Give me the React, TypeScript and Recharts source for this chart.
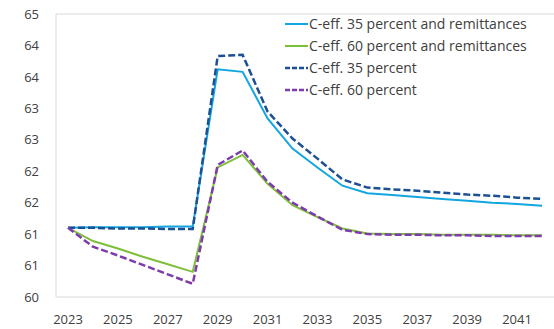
import { LineChart, Line, XAxis, YAxis, ReferenceLine } from "recharts";

const years = [
  "2023", "2024", "2025", "2026", "2027", "2028", "2029", "2030", "2031", "2032",
  "2033", "2034", "2035", "2036", "2037", "2038", "2039", "2040", "2041", "2042",
];

const c35Remit = [61.1, 61.11, 61.11, 61.11, 61.12, 61.12, 63.62, 63.58, 62.84, 62.36, 62.06, 61.77, 61.65, 61.62, 61.59, 61.56, 61.53, 61.5, 61.48, 61.45];
const c60Remit = [61.1, 60.89, 60.77, 60.64, 60.52, 60.4, 62.06, 62.26, 61.8, 61.46, 61.27, 61.09, 61.01, 61.0, 61.0, 60.99, 60.99, 60.99, 60.98, 60.98];
const c35 = [61.1, 61.1, 61.09, 61.09, 61.08, 61.08, 63.83, 63.85, 62.95, 62.52, 62.2, 61.87, 61.74, 61.71, 61.69, 61.66, 61.63, 61.61, 61.58, 61.56];
const c60 = [61.1, 60.8, 60.66, 60.51, 60.36, 60.21, 62.1, 62.33, 61.83, 61.5, 61.28, 61.07, 61.0, 60.99, 60.99, 60.98, 60.98, 60.97, 60.97, 60.97];

const yTicks = [60, 60.5, 61, 61.5, 62, 62.5, 63, 63.5, 64, 64.5];

const series = [
  { key: "c35r", name: "C-eff. 35 percent and remittances", color: "#12a6e0", dash: undefined as string | undefined, width: 2 },
  { key: "c60r", name: "C-eff. 60 percent and remittances", color: "#7dbf3a", dash: undefined, width: 2 },
  { key: "c35", name: "C-eff. 35 percent", color: "#1c4f94", dash: "7 3", width: 2.5 },
  { key: "c60", name: "C-eff. 60 percent", color: "#7d3bae", dash: "7 3", width: 2.5 },
];

const data = years.map((y, i) => ({
  year: y,
  c35r: c35Remit[i],
  c60r: c60Remit[i],
  c35: c35[i],
  c60: c60[i],
}));

const font = "'Open Sans', sans-serif";
const textColor = "#404040";

// legend drawn as an overlay so it doesn't eat plot space
function LegendBox() {
  return (
    <svg width={270} height={100} style={{ position: "absolute", left: 284, top: 12 }}>
      {series.map((s, i) => (
        <g key={s.key} transform={`translate(0, ${12 + i * 22})`}>
          <line x1={1} x2={24} y1={0} y2={0} stroke={s.color} strokeWidth={s.width} strokeDasharray={s.dash ? "5 2" : undefined} />
          <text x={25} y={0} dy="0.35em" fontSize={14} fontFamily={font} fill={textColor}>
            {s.name}
          </text>
        </g>
      ))}
    </svg>
  );
}

export default function App() {
  return (
    <div style={{ position: "absolute", left: 0, top: 0, width: 554, height: 329, background: "#fff" }}>
      <LineChart width={554} height={329} data={data} margin={{ top: 14, right: 0, bottom: 0, left: 0 }}>
        <ReferenceLine y={64.5} stroke="#d9d9d9" strokeWidth={1} />
        <XAxis
          dataKey="year"
          interval={1}
          padding={{ left: 12, right: 12 }}
          tickLine={false}
          tickSize={0}
          tickMargin={18}
          height={32}
          axisLine={{ stroke: "#d9d9d9" }}
          tick={{ fontSize: 13, fontFamily: font, fill: textColor }}
        />
        <YAxis
          domain={[60, 64.5]}
          ticks={yTicks}
          allowDataOverflow
          width={56}
          tickLine={false}
          tickSize={0}
          tickMargin={17}
          axisLine={{ stroke: "#d9d9d9" }}
          tick={{ fontSize: 13, fontFamily: font, fill: textColor }}
          tickFormatter={(v: number) => String(Math.round(v))}
        />
        {series.map((s) => (
          <Line
            key={s.key}
            type="linear"
            dataKey={s.key}
            name={s.name}
            stroke={s.color}
            strokeWidth={s.width}
            strokeDasharray={s.dash}
            dot={false}
            activeDot={false}
            isAnimationActive={false}
          />
        ))}
      </LineChart>
      <LegendBox />
    </div>
  );
}
